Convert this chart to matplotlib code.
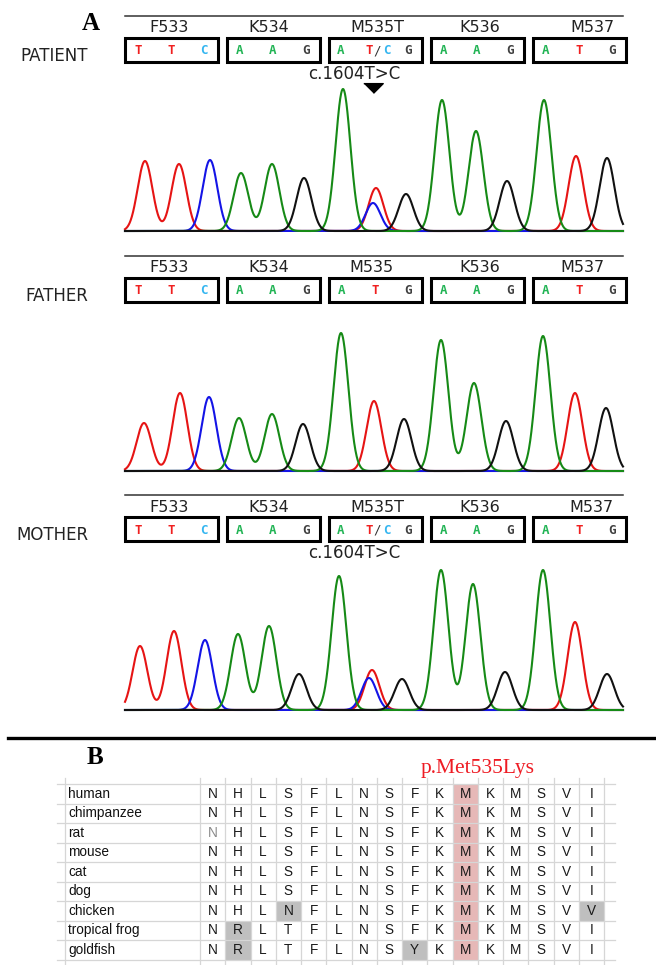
import numpy as np
import matplotlib.pyplot as plt

# ---- data ----------------------------------------------------------
bases = list("TTCAAGATGAAGATG")
codon_boxes = [bases[i:i + 3] for i in range(0, 15, 3)]

panel_names = ["PATIENT", "FATHER", "MOTHER"]
panel_codons = [["F533", "K534", "M535T", "K536", "M537"],
                ["F533", "K534", "M535", "K536", "M537"],
                ["F533", "K534", "M535T", "K536", "M537"]]
panel_het = [True, False, True]

# peak positions (scan units) and heights per base call
patient_pos = [145, 179, 210, 241, 272, 304, 343, 376, 406, 442, 476, 507, 544, 576, 607]
patient_h = [70, 67, 71, 58, 67, 53, 142, 43, 37, 131, 100, 50, 131, 75, 73]
father_pos = [144, 180, 209, 239, 272, 303, 341, 374, 404, 441, 474, 506, 543, 575, 606]
father_h = [48, 78, 74, 53, 57, 47, 138, 70, 52, 131, 88, 50, 135, 78, 63]
mother_pos = [140, 174, 205, 238, 269, 299, 339, 372, 402, 441, 473, 505, 543, 575, 607]
mother_h = [64, 79, 70, 76, 84, 36, 134, 40, 31, 140, 126, 38, 140, 88, 36]
# extra C peak at the heterozygous site (position, height)
patient_extra = (373, 28)
mother_extra = (369, 32)

species = ["human", "chimpanzee", "rat", "mouse", "cat", "dog",
           "chicken", "tropical frog", "goldfish"]
alignment = ["NHLSFLNSFKMKMSVI",
             "NHLSFLNSFKMKMSVI",
             "NHLSFLNSFKMKMSVI",
             "NHLSFLNSFKMKMSVI",
             "NHLSFLNSFKMKMSVI",
             "NHLSFLNSFKMKMSVI",
             "NHLNFLNSFKMKMSVV",
             "NRLTFLNSFKMKMSVI",
             "NRLTFLNSYKMKMSVI"]
gray_cells = [(6, 3), (6, 15), (7, 1), (8, 1), (8, 8)]
mut_col = 10

# ---- styles --------------------------------------------------------
trace_col = {"A": "#168a16", "C": "#1414e6", "G": "#111111", "T": "#e61414"}
text_col = {"A": "#22b455", "C": "#35b6f0", "G": "#404040", "T": "#f02020"}

W, H = 656, 965
fig = plt.figure(figsize=(W / 100, H / 100), dpi=100)
cv = fig.add_axes([0, 0, 1, 1])
cv.set_xlim(0, W)
cv.set_ylim(H, 0)
cv.axis("off")

cv.text(91, 23, "A", fontsize=18, fontweight="bold", family="Liberation Serif",
        ha="center", va="center")

offsets = [0, 240, 479]
peaks = [(patient_pos, patient_h, patient_extra),
         (father_pos, father_h, None),
         (mother_pos, mother_h, mother_extra)]
box_left = [125, 227, 329, 431, 533]
label_dx = [[-2, -5, 2, 2, 13], [-2, -5, -4, 2, 3], [-2, -5, 2, 2, 12]]
scan = np.linspace(125, 623, 1600)
sigma = 7.4


def base_text(x, y, s, color, bold=True):
    cv.text(x, y, s, color=color, ha="center", va="center", fontsize=9,
            family="DejaVu Sans Mono", fontweight="bold" if bold else "normal")


for k, o in enumerate(offsets):
    cv.plot([125, 623], [o + 16, o + 16], color="#333333", lw=1.1)
    cv.text(88, o + 56, panel_names[k], ha="right", va="center",
            fontsize=12, family="DejaVu Sans", color="#222222")
    for b in range(5):
        x0 = box_left[b]
        cv.add_patch(plt.Rectangle((x0, o + 38), 93, 24, fill=False,
                                   lw=2.2, ec="black"))
        cv.text(x0 + 46.5 + label_dx[k][b], o + 28, panel_codons[k][b],
                ha="center", va="center", fontsize=11.5, color="#222222")
        cod = codon_boxes[b]
        if b == 2 and panel_het[k]:
            base_text(x0 + 12, o + 51, "A", text_col["A"])
            base_text(x0 + 40, o + 51, "T", text_col["T"])
            base_text(x0 + 48, o + 51, "/", "#333333", bold=False)
            base_text(x0 + 58, o + 51, "C", text_col["C"])
            base_text(x0 + 79, o + 51, "G", text_col["G"])
        else:
            for j, dx in enumerate([13, 46, 79]):
                base_text(x0 + dx, o + 51, cod[j], text_col[cod[j]])
    if panel_het[k]:
        cv.text(354, o + 74, "c.1604T>C", ha="center", va="center",
                fontsize=12, color="#222222")

    # chromatogram
    ax = fig.add_axes([125 / W, 1 - (o + 233) / H, (623 - 125) / W, 158 / H])
    ax.set_xlim(125, 623)
    ax.set_ylim(-2, 156)
    ax.axis("off")
    pos, hts, extra = peaks[k]
    for base in ["T", "C", "A", "G"]:
        y = np.zeros_like(scan)
        for b, p, h in zip(bases, pos, hts):
            if b == base:
                y += h * np.exp(-0.5 * ((scan - p) / sigma) ** 2)
        if base == "C" and extra is not None:
            y += extra[1] * np.exp(-0.5 * ((scan - extra[0]) / sigma) ** 2)
        ax.plot(scan, y, color=trace_col[base], lw=1.5, clip_on=False)

# arrow marker over the patient's variant
cv.plot(373, 88, marker=[(-1, 0.5), (1, 0.5), (0, -0.5)], ms=14, color="black")

# ---- panel B -------------------------------------------------------
cv.plot([8, 656], [738, 738], color="black", lw=2.4)
cv.text(95, 758, "B", fontsize=18, fontweight="bold", family="Liberation Serif",
        ha="center", va="center")

row_top, row_h = 784, 19.5
col_x0, col_w = 200, 25.25
n_rows, n_cols = len(species), len(alignment[0])

cv.text(478, 768, "p.Met535Lys", color="#ee1c24",
        fontsize=15.5, family="Liberation Serif", ha="center", va="center")

cv.add_patch(plt.Rectangle((col_x0 + mut_col * col_w, row_top), col_w,
                           n_rows * row_h, color="#e6b8b7", lw=0))
for r, c in gray_cells:
    cv.add_patch(plt.Rectangle((col_x0 + c * col_w, row_top + r * row_h), col_w,
                               row_h, color="#bfbfbf", lw=0))

for i in range(n_rows + 1):
    yy = row_top + i * row_h
    cv.plot([57, 615], [yy, yy], color="#d6d6d6", lw=0.9)
vx = [65] + [col_x0 + j * col_w for j in range(n_cols + 1)]
for xx in vx:
    cv.plot([xx, xx], [778, 965], color="#d6d6d6", lw=0.9)

for r, name in enumerate(species):
    yc = row_top + (r + 0.5) * row_h
    cv.text(68, yc, name, ha="left", va="center", fontsize=9.8,
            family="Liberation Sans", color="#111111")
    for c, aa in enumerate(alignment[r]):
        col = "#8a8a8a" if (r == 2 and c == 0) else "#1a1a1a"
        cv.text(col_x0 + (c + 0.5) * col_w, yc, aa, ha="center", va="center",
                fontsize=9.8, family="Liberation Sans", color=col)

fig.savefig("out.png", dpi=100)
